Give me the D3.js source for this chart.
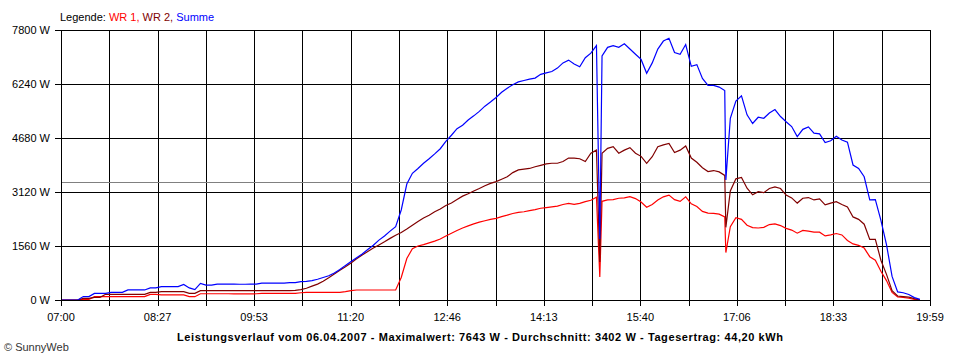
<!DOCTYPE html>
<html>
<head>
<meta charset="utf-8">
<script src="https://cdn.jsdelivr.net/npm/d3@7"></script>
<style>
  html, body { margin: 0; padding: 0; background: #fff; }
  svg { display: block; }
  text { font-family: Arial, "Liberation Sans", sans-serif; font-size: 11px; }
</style>
</head>
<body>
<svg id="chart" width="960" height="360"></svg>
<script>
// ---- data ----
const times = [
 "07:00","07:05","07:10","07:15","07:20","07:25","07:30","07:35","07:40","07:45","07:50","07:55",
 "08:00","08:05","08:10","08:15","08:20","08:25","08:30","08:35","08:40","08:45","08:50","08:55",
 "09:00","09:05","09:10","09:15","09:20","09:25","09:30","09:35","09:40","09:45","09:50","09:55",
 "10:00","10:05","10:10","10:15","10:20","10:25","10:30","10:35","10:40","10:45","10:50","10:55",
 "11:00","11:05","11:10","11:15","11:20","11:25","11:30","11:35","11:40","11:45","11:50","11:55",
 "12:00","12:05","12:10","12:15","12:20","12:25","12:30","12:35","12:40","12:45","12:50","12:55",
 "13:00","13:05","13:10","13:15","13:20","13:25","13:30","13:35","13:40","13:45","13:50","13:55",
 "14:00","14:05","14:10","14:15","14:20","14:25","14:30","14:35","14:40","14:45","14:50","14:55",
 "15:00","15:03","15:05","15:10","15:15","15:20","15:25","15:30","15:35","15:40","15:45","15:50","15:55",
 "16:00","16:05","16:10","16:15","16:20","16:25","16:30","16:35","16:40","16:45","16:50","16:55","16:56",
 "17:00","17:05","17:10","17:15","17:20","17:25","17:30","17:35","17:40","17:45","17:50","17:55",
 "18:00","18:05","18:10","18:15","18:20","18:25","18:30","18:35","18:40","18:45","18:50","18:55",
 "19:00","19:05","19:10","19:15","19:20","19:25","19:30","19:35","19:40","19:45","19:50"
];

const wr1 = [
 0,0,0,0,20,20,96,96,96,96,96,96,
 96,96,96,96,164,164,150,150,150,150,150,96,
 96,180,180,180,180,180,180,175,175,175,175,180,
 193,193,193,193,193,193,193,210,222,222,222,222,
 222,222,222,240,270,289,289,289,289,289,289,289,
 289,650,1200,1480,1560,1600,1650,1700,1760,1850,1930,2010,
 2080,2140,2200,2250,2290,2330,2360,2410,2450,2500,2530,2550,
 2580,2610,2650,2670,2690,2710,2760,2790,2760,2790,2840,2880,
 2970,664,2850,2890,2900,2940,2950,2985,2930,2830,2680,2760,2890,
 2980,3030,2900,2850,2980,2780,2700,2560,2510,2500,2480,2400,1370,
 2118,2380,2330,2160,2090,2080,2100,2180,2200,2150,2070,2020,
 1930,2010,1990,1960,1960,1850,1880,1920,1880,1720,1620,1580,
 1500,1251,1150,830,560,220,90,77,50,20,0
];

const wr2 = [
 0,0,0,0,48,48,77,77,164,164,164,164,
 164,164,164,164,222,222,240,240,240,240,240,193,
 193,270,270,270,270,270,270,270,270,270,270,270,
 270,270,270,270,270,270,280,300,340,400,460,540,
 640,750,860,960,1070,1190,1300,1400,1500,1590,1680,1780,
 1870,1950,2050,2160,2270,2370,2450,2550,2630,2730,2800,2900,
 3000,3070,3150,3220,3300,3370,3420,3490,3560,3680,3760,3780,
 3800,3850,3890,3930,3950,3950,4000,4100,4100,4080,4000,4240,
 4330,1100,4240,4380,4430,4240,4330,4400,4240,4150,3950,4140,4430,
 4480,4520,4260,4330,4450,4100,3980,3820,3710,3740,3700,3600,2100,
 3150,3500,3540,3230,3040,3130,3100,3220,3270,3220,3030,2950,
 2800,2940,2960,2890,2920,2750,2800,2840,2760,2690,2400,2330,
 2190,1750,1750,1150,740,270,116,100,85,40,0
];

const summe = [
 0,0,0,0,100,100,190,190,190,220,220,220,
 290,290,290,290,350,350,385,385,385,385,450,350,
 300,480,430,430,460,460,460,460,455,455,460,460,
 490,490,490,490,490,500,500,530,540,560,600,650,
 700,780,880,1000,1110,1220,1330,1460,1580,1730,1850,1990,
 2120,2600,3350,3660,3800,3950,4080,4220,4370,4580,4760,4950,
 5050,5200,5320,5450,5600,5720,5850,6000,6120,6220,6300,6340,
 6380,6410,6520,6560,6600,6700,6850,6930,6820,6740,7000,7130,
 7350,1760,7050,7300,7350,7300,7400,7250,7100,6950,6550,6850,7250,
 7480,7560,7150,7100,7380,6750,6800,6400,6200,6200,6150,6050,3470,
 5250,5750,5900,5350,5100,5280,5250,5400,5500,5300,5150,5010,
 4720,4930,5000,4820,4800,4550,4600,4730,4620,4560,3900,3800,
 3560,2890,2900,2300,1600,680,235,210,160,70,20
];

const average = 3402;
const yTicks = [0, 1560, 3120, 4680, 6240, 7800];
const xTickLabels = ["07:00","08:27","09:53","11:20","12:46","14:13","15:40","17:06","18:33","19:59"];
const legendParts = [
  { text: "Legende: ", color: "#000000" },
  { text: "WR 1, ", color: "#ff0000" },
  { text: "WR 2, ", color: "#800000" },
  { text: "Summe", color: "#0000ff" }
];
const title = "Leistungsverlauf vom 06.04.2007 - Maximalwert: 7643 W - Durchschnitt: 3402 W - Tagesertrag: 44,20 kWh";
const footer = "\u00A9 SunnyWeb";

// ---- layout ----
const plotLeft = 61, plotRight = 930, plotTop = 30, plotBottom = 300;
const startMin = 0, endMin = 779; // 07:00 .. 19:59
const toMin = s => { const [h, m] = s.split(":").map(Number); return (h * 60 + m) - 420; };

const svg = d3.select("#chart");
const x = d3.scaleLinear().domain([startMin, endMin]).range([plotLeft, plotRight]);
const y = d3.scaleLinear().domain([0, 7800]).range([plotBottom, plotTop]);

const crisp = v => Math.round(v) + 0.5;

// vertical grid: labelled ticks + halfway lines
const nMajor = xTickLabels.length - 1;
const gridPos = d3.range(0, nMajor * 2 + 1).map(i => startMin + (endMin - startMin) * i / (nMajor * 2));
const grid = svg.append("g").attr("shape-rendering", "crispEdges");
grid.selectAll("line.v").data(gridPos).join("line")
  .attr("x1", d => crisp(x(d))).attr("x2", d => crisp(x(d)))
  .attr("y1", plotTop).attr("y2", plotBottom + 6)
  .attr("stroke", "#000").attr("stroke-width", 1);
grid.selectAll("line.h").data(yTicks).join("line")
  .attr("x1", plotLeft - 6).attr("x2", plotRight)
  .attr("y1", d => crisp(y(d))).attr("y2", d => crisp(y(d)))
  .attr("stroke", "#000").attr("stroke-width", 1);

// average line
svg.append("line")
  .attr("shape-rendering", "crispEdges")
  .attr("x1", plotLeft).attr("x2", plotRight)
  .attr("y1", crisp(y(average))).attr("y2", crisp(y(average)))
  .attr("stroke", "#808080").attr("stroke-width", 1);

// y labels
svg.append("g").selectAll("text").data(yTicks).join("text")
  .attr("x", 50).attr("y", d => y(d) + 4)
  .attr("text-anchor", "end").attr("fill", "#000")
  .text(d => d + " W");

// x labels
svg.append("g").selectAll("text").data(xTickLabels).join("text")
  .attr("x", (d, i) => x(startMin + (endMin - startMin) * i / nMajor))
  .attr("y", 321)
  .attr("text-anchor", "middle").attr("fill", "#000")
  .text(d => d);

// series
const series = [
  { values: wr1, color: "#ff0000" },
  { values: wr2, color: "#800000" },
  { values: summe, color: "#0000ff" }
];
const line = d3.line().x(d => x(d.t)).y(d => y(d.v));
series.forEach(s => {
  const pts = times.map((t, i) => ({ t: toMin(t), v: s.values[i] }));
  svg.append("path").datum(pts)
    .attr("d", line)
    .attr("fill", "none")
    .attr("stroke", s.color)
    .attr("stroke-width", 1.2)
    .attr("stroke-linejoin", "miter");
});

// frame
svg.append("g").attr("shape-rendering", "crispEdges")
  .append("rect")
  .attr("x", plotLeft + 0.5).attr("y", plotTop + 0.5)
  .attr("width", plotRight - plotLeft).attr("height", plotBottom - plotTop)
  .attr("fill", "none").attr("stroke", "#000");

// legend
const leg = svg.append("text").attr("x", 60).attr("y", 21).attr("style", "white-space: pre");
leg.selectAll("tspan").data(legendParts).join("tspan")
  .attr("fill", d => d.color)
  .text(d => d.text);

// title
svg.append("text")
  .attr("x", 177).attr("y", 341)
  .attr("font-weight", "bold")
  .attr("fill", "#000")
  .attr("textLength", 606)
  .attr("lengthAdjust", "spacing")
  .text(title);

// footer
svg.append("text")
  .attr("x", 4).attr("y", 351)
  .attr("fill", "#333")
  .text(footer);
</script>
</body>
</html>
